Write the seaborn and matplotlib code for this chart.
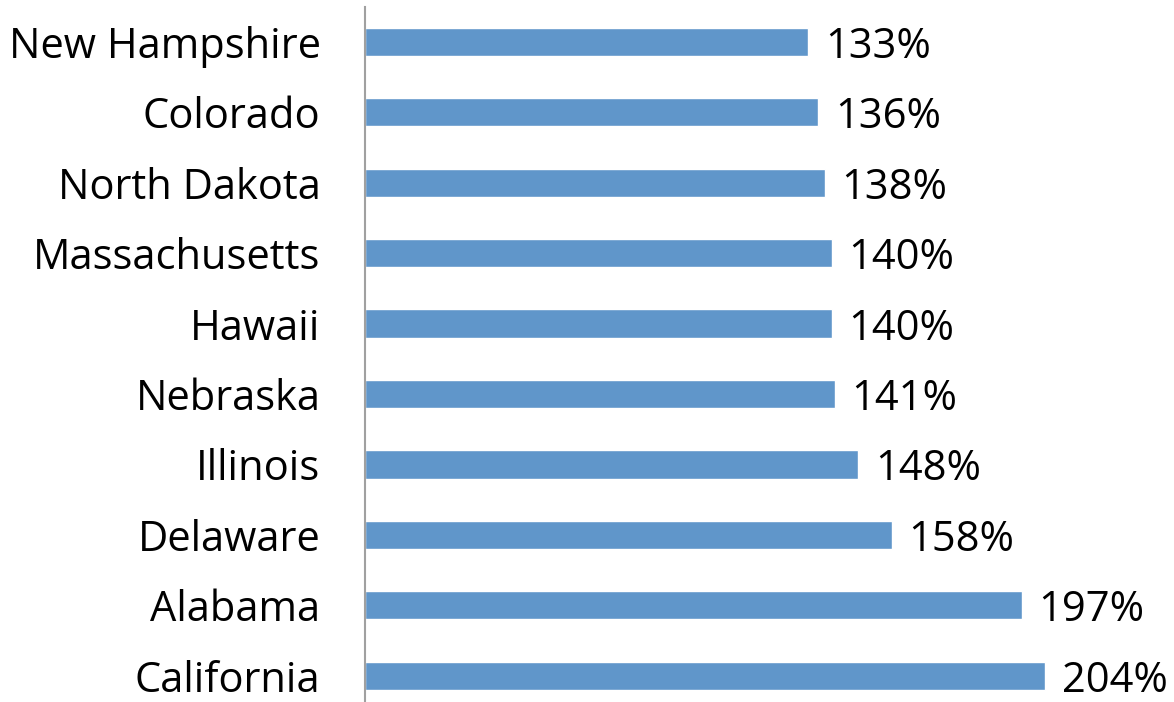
import matplotlib
matplotlib.use("Agg")
import matplotlib.pyplot as plt
import seaborn as sns
import pandas as pd

# states, top to bottom
states = ["New Hampshire", "Colorado", "North Dakota", "Massachusetts", "Hawaii",
          "Nebraska", "Illinois", "Delaware", "Alabama", "California"]
pct = [133, 136, 138, 140, 140, 141, 148, 158, 197, 204]

data = pd.DataFrame({"state": states, "pct": pct})

sns.set_style("white")
plt.rcParams["font.family"] = ["Open Sans", "DejaVu Sans"]

fig = plt.figure(figsize=(11.74, 7.02), dpi=100)
ax = fig.add_axes([365 / 1174, -9 / 702, 809 / 1174, 704.4 / 702])

sns.barplot(data=data, x="pct", y="state", orient="h", color="#6096CA",
            saturation=1, width=0.4, ax=ax)

for c in ax.containers:
    txts = ax.bar_label(c, labels=[f"{v}%" for v in pct], padding=12,
                        fontsize=30, color="black")
    for t in txts:
        t.set_va("center_baseline")

ax.set_xlim(0, 242.7)
ax.set_ylim(9.5, -0.5)
ax.set_xlabel("")
ax.set_ylabel("")
ax.set_xticks([])
ax.tick_params(axis="y", length=0, pad=32, labelsize=30, labelcolor="black")
for lbl in ax.get_yticklabels():
    lbl.set_va("center_baseline")
for s in ["top", "right", "bottom"]:
    ax.spines[s].set_visible(False)
ax.spines["left"].set_color("#A0A0A0")
ax.spines["left"].set_linewidth(1.5)

fig.savefig("out.png", dpi=100)
